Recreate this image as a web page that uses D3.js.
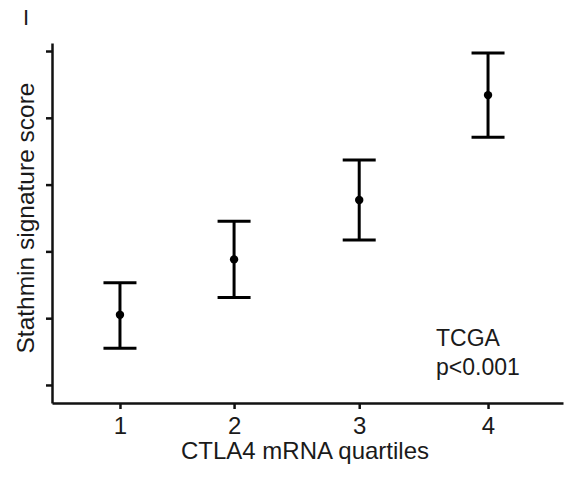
<!DOCTYPE html>
<html>
<head>
<meta charset="utf-8">
<script src="https://cdn.jsdelivr.net/npm/d3@7"></script>
<style>
  body { margin: 0; background: #fff; }
  text { font-family: "Liberation Sans", Arial, sans-serif; fill: #1a1a1a; }
</style>
</head>
<body>
<div id="chart"></div>
<script>
// values (y in arbitrary score units, ticks unlabeled)
const quartiles = ["1", "2", "3", "4"];
const quartilePos = [1, 1.93, 2.95, 4];
const means = [1.05, 1.88, 2.77, 4.34];
const upper = [1.53, 2.45, 3.37, 4.97];
const lower = [0.55, 1.31, 2.17, 3.71];
const yTicks = [0, 1, 2, 3, 4, 5];

const width = 569, height = 477;

const svg = d3.select("#chart")
    .append("svg")
    .attr("width", width)
    .attr("height", height);

// scales
const x = d3.scaleLinear()
    .domain([0.446, 4.611])
    .range([52, 563]);

const y = d3.scaleLinear()
    .domain([-0.27, 5.12])
    .range([403, 43]);

// x axis
const xAxis = svg.append("g")
    .attr("transform", `translate(0,${y.range()[0]})`)
    .call(d3.axisBottom(x)
        .tickValues(quartilePos)
        .tickFormat((d, i) => quartiles[i])
        .tickSize(6)
        .tickSizeOuter(0)
        .tickPadding(8));

// y axis, no labels
const yAxis = svg.append("g")
    .attr("transform", `translate(${x.range()[0]},0)`)
    .call(d3.axisLeft(y)
        .tickValues(yTicks)
        .tickFormat("")
        .tickSize(6)
        .tickSizeOuter(0));

[xAxis, yAxis].forEach(g => {
    g.attr("font-family", "Liberation Sans, Arial, sans-serif").attr("font-size", 24);
    g.select(".domain").attr("stroke", "#111").attr("stroke-width", 2.5);
    g.selectAll(".tick line").attr("stroke", "#111").attr("stroke-width", 2.5);
});
xAxis.selectAll(".tick text")
    .attr("fill", "#1a1a1a");

// axis titles
svg.append("text")
    .attr("x", 305)
    .attr("y", 459)
    .attr("text-anchor", "middle")
    .style("font-size", "24px")
    .text("CTLA4 mRNA quartiles");

svg.append("text")
    .attr("transform", "translate(34,218) rotate(-90)")
    .attr("text-anchor", "middle")
    .style("font-size", "24.5px")
    .text("Stathmin signature score");

// panel label fragment at top left
svg.append("text")
    .attr("x", 23)
    .attr("y", 25)
    .style("font-size", "22px")
    .text("I");

// annotation
svg.append("text")
    .attr("x", 436)
    .attr("y", 346)
    .style("font-size", "23px")
    .text("TCGA");

svg.append("text")
    .attr("x", 436)
    .attr("y", 375)
    .style("font-size", "23px")
    .text("p<0.001");

// error bars
const data = quartilePos.map((p, i) => ({ p, mean: means[i], hi: upper[i], lo: lower[i] }));
const capHalf = 16.5;

const bars = svg.append("g").selectAll("g")
    .data(data)
    .enter()
    .append("g");

bars.append("line")
    .attr("x1", d => x(d.p))
    .attr("x2", d => x(d.p))
    .attr("y1", d => y(d.hi))
    .attr("y2", d => y(d.lo))
    .attr("stroke", "#000")
    .attr("stroke-width", 3);

bars.append("line")
    .attr("x1", d => x(d.p) - capHalf)
    .attr("x2", d => x(d.p) + capHalf)
    .attr("y1", d => y(d.hi))
    .attr("y2", d => y(d.hi))
    .attr("stroke", "#000")
    .attr("stroke-width", 3);

bars.append("line")
    .attr("x1", d => x(d.p) - capHalf)
    .attr("x2", d => x(d.p) + capHalf)
    .attr("y1", d => y(d.lo))
    .attr("y2", d => y(d.lo))
    .attr("stroke", "#000")
    .attr("stroke-width", 3);

bars.append("circle")
    .attr("cx", d => x(d.p))
    .attr("cy", d => y(d.mean))
    .attr("r", 4.2)
    .attr("fill", "#000");
</script>
</body>
</html>
